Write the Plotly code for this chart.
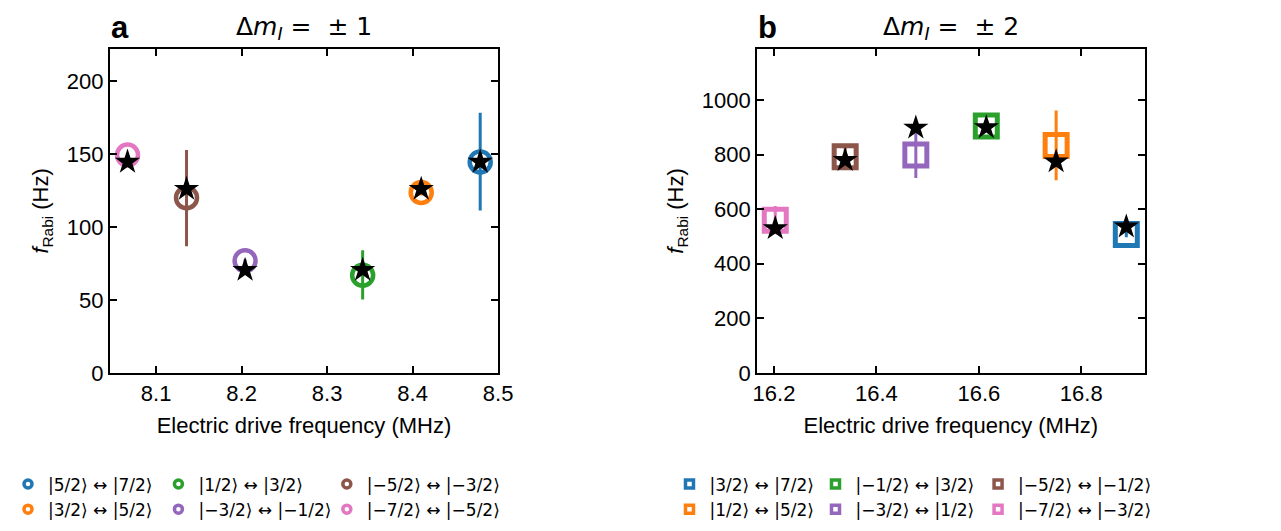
import plotly.graph_objects as go

# ---------------- data ----------------
colors = ["#1f77b4", "#ff7f0e", "#2ca02c", "#9467bd", "#8c564b", "#e377c2"]

# panel a: Delta m_I = +-1
a_labels = ["|5/2⟩ ↔ |7/2⟩", "|3/2⟩ ↔ |5/2⟩", "|1/2⟩ ↔ |3/2⟩",
            "|−3/2⟩ ↔ |−1/2⟩", "|−5/2⟩ ↔ |−3/2⟩", "|−7/2⟩ ↔ |−5/2⟩"]
a_freq = [8.479, 8.410, 8.3415, 8.204, 8.1355, 8.0665]
a_meas = [144.6, 123.6, 66.9, 76.8, 120.0, 149.3]
a_err_plus = [33.7, 2.0, 17.2, 1.0, 32.8, 1.0]
a_err_minus = [33.3, 2.0, 16.7, 1.0, 33.2, 1.0]
a_theory = [144.6, 126.0, 70.5, 70.5, 126.0, 144.6]

# panel b: Delta m_I = +-2
b_labels = ["|3/2⟩ ↔ |7/2⟩", "|1/2⟩ ↔ |5/2⟩", "|−1/2⟩ ↔ |3/2⟩",
            "|−3/2⟩ ↔ |1/2⟩", "|−5/2⟩ ↔ |−1/2⟩", "|−7/2⟩ ↔ |−3/2⟩"]
b_freq = [16.888, 16.751, 16.6146, 16.477, 16.339, 16.2025]
b_meas = [507, 834, 905, 799, 793, 560]
b_err_plus = [10, 128, 15, 84, 45, 52]
b_err_minus = [10, 128, 15, 84, 45, 52]
b_theory = [536, 775, 900, 899, 780, 530]

a_ticks = [0, 50, 100, 150, 200]
b_ticks = [0, 200, 400, 600, 800, 1000]
a_xticks = [8.1, 8.2, 8.3, 8.4, 8.5]
b_xticks = [16.2, 16.4, 16.6, 16.8]

# ---------------- figure ----------------
W, H = 1281, 531
fig = go.Figure()

SANS = "Liberation Sans, Arial, sans-serif"
TICKFONT = dict(family=SANS, size=22, color="black")
LEGFONT = dict(family="DejaVu Sans, sans-serif", size=17, color="black")

# legend column layout: (legend name, indices)
a_cols = [("legend", [0, 1]), ("legend2", [2, 3]), ("legend3", [4, 5])]
b_cols = [("legend4", [0, 1]), ("legend5", [2, 3]), ("legend6", [4, 5])]

def add_panel(freq, meas, ep, em, theory, labels, xa, ya, symbol, size, lw, cols):
    for i in range(6):
        fig.add_trace(go.Scatter(
            x=[freq[i]], y=[meas[i]], mode="markers",
            marker=dict(symbol=symbol, size=size, color=colors[i],
                        line=dict(width=lw, color=colors[i])),
            error_y=dict(type="data", array=[ep[i]], arrayminus=[em[i]],
                         color=colors[i], thickness=3, width=0),
            xaxis=xa, yaxis=ya, showlegend=False, name=labels[i]))
    # legend entries (small symbols like the reference legend)
    for name, idxs in cols:
        for i in idxs:
            fig.add_trace(go.Scatter(
                x=[None], y=[None], mode="markers",
                marker=dict(symbol=symbol, size=8, color=colors[i],
                            line=dict(width=3.5, color=colors[i])),
                xaxis=xa, yaxis=ya, name=labels[i], legend=name, showlegend=True))
    fig.add_trace(go.Scatter(
        x=freq, y=theory, mode="markers",
        marker=dict(symbol="star", size=19, color="black",
                    line=dict(width=0)),
        xaxis=xa, yaxis=ya, showlegend=False, name="theory"))

add_panel(a_freq, a_meas, a_err_plus, a_err_minus, a_theory, a_labels,
          "x", "y", "circle-open", 21, 4.5, a_cols)
add_panel(b_freq, b_meas, b_err_plus, b_err_minus, b_theory, b_labels,
          "x2", "y2", "square-open", 22, 5, b_cols)

ydom = [1 - 374 / H, 1 - 42 / H]
axis_common = dict(showline=True, linecolor="black", linewidth=1.8, mirror="ticks",
                   ticks="inside", ticklen=7, tickwidth=1.8, tickcolor="black",
                   showgrid=False, zeroline=False, tickfont=TICKFONT)

xtitle = dict(text="Electric drive frequency (MHz)",
              font=dict(family=SANS, size=22, color="black"), standoff=12)
ytitle = dict(text="<i>f</i><sub>Rabi</sub> (Hz)",
              font=dict(family=SANS, size=22, color="black"), standoff=12)

fig.update_layout(
    width=W, height=H,
    margin=dict(l=0, r=0, t=0, b=0),
    paper_bgcolor="white", plot_bgcolor="white",
    xaxis=dict(domain=[85 / W, 484 / W], range=[8.0457, 8.5], tickvals=a_xticks,
               ticktext=[f"{v:.1f}" for v in a_xticks], anchor="y", title=xtitle, **axis_common),
    yaxis=dict(domain=ydom, range=[0, 222], tickvals=a_ticks, anchor="x",
               title=ytitle, **axis_common),
    xaxis2=dict(domain=[750 / W, 1148 / W], range=[16.167, 16.9236], tickvals=b_xticks,
                ticktext=[f"{v:.1f}" for v in b_xticks], anchor="y2", title=xtitle, **axis_common),
    yaxis2=dict(domain=ydom, range=[0, 1188], tickvals=b_ticks, anchor="x2",
                title=ytitle, **axis_common),
)

# legends: one per column
leg_x = {"legend": -20, "legend2": 135, "legend3": 308,
         "legend4": 660, "legend5": 810, "legend6": 977}
for name, px in leg_x.items():
    fig.layout[name] = dict(x=px / W, y=1 - 470 / H, xanchor="left", yanchor="top",
                            orientation="v", font=LEGFONT, bgcolor="rgba(0,0,0,0)",
                            borderwidth=0, tracegroupgap=0, itemwidth=30)

# panel labels and titles
for lab, x0 in [("a", 84), ("b", 749)]:
    fig.add_annotation(text=f"<b>{lab}</b>", x=x0 / W, y=1 - 20 / H, xref="paper", yref="paper",
                       xanchor="left", yanchor="middle", showarrow=False,
                       font=dict(family=SANS, size=31, color="black"))
TITLEFONT = dict(family="DejaVu Sans, sans-serif", size=25, color="black")
tit = ["Δ<i>m</i><sub><i>I</i></sub> =  ± 1", "Δ<i>m</i><sub><i>I</i></sub> =  ± 2"]
for t, cx in zip(tit, [(85 + 484) / 2, (750 + 1148) / 2]):
    fig.add_annotation(text=t, x=cx / W, y=1 - 20 / H, xref="paper", yref="paper",
                       xanchor="center", yanchor="middle", showarrow=False, font=TITLEFONT)

fig.write_html("out.html")
